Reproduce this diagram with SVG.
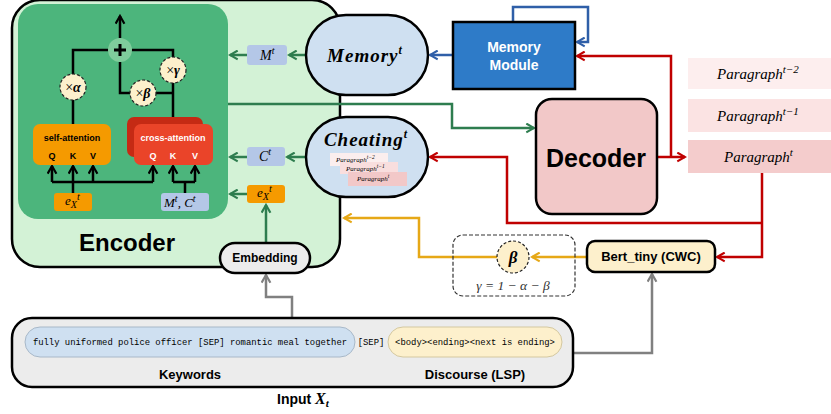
<svg xmlns="http://www.w3.org/2000/svg" width="831" height="414" viewBox="0 0 831 414">
<defs>
<style>
.sans{font-family:"Liberation Sans",Arial,sans-serif;font-weight:bold}
.math{font-family:"Liberation Serif","DejaVu Serif",serif;font-style:italic}
.mono{font-family:"Liberation Mono","DejaVu Sans Mono",monospace}
.blk{fill:none;stroke:#000;stroke-width:2.5}
.grn{fill:none;stroke:#2e7d4f;stroke-width:2.5}
.red{fill:none;stroke:#c00000;stroke-width:2.5}
.blu{fill:none;stroke:#2f5fa8;stroke-width:2.5}
.yel{fill:none;stroke:#e6a817;stroke-width:2.5}
.gry{fill:none;stroke:#808080;stroke-width:2.5}
.coef{fill:#fdf0cc;stroke:#222;stroke-width:1.2;stroke-dasharray:3 2}
</style>
<marker id="aK" viewBox="0 0 10 10" refX="8" refY="5" markerWidth="11" markerHeight="11" markerUnits="userSpaceOnUse" orient="auto"><path d="M1,1 L8,5 L1,9" fill="none" stroke="#000" stroke-width="2"/></marker>
<marker id="aG" viewBox="0 0 10 10" refX="8" refY="5" markerWidth="11" markerHeight="11" markerUnits="userSpaceOnUse" orient="auto"><path d="M1,1 L8,5 L1,9" fill="none" stroke="#2e7d4f" stroke-width="2"/></marker>
<marker id="aR" viewBox="0 0 10 10" refX="8" refY="5" markerWidth="11" markerHeight="11" markerUnits="userSpaceOnUse" orient="auto"><path d="M1,1 L8,5 L1,9" fill="none" stroke="#c00000" stroke-width="2"/></marker>
<marker id="aB" viewBox="0 0 10 10" refX="8" refY="5" markerWidth="11" markerHeight="11" markerUnits="userSpaceOnUse" orient="auto"><path d="M1,1 L8,5 L1,9" fill="none" stroke="#2f5fa8" stroke-width="2"/></marker>
<marker id="aY" viewBox="0 0 10 10" refX="8" refY="5" markerWidth="11" markerHeight="11" markerUnits="userSpaceOnUse" orient="auto"><path d="M1,1 L8,5 L1,9" fill="none" stroke="#e6a817" stroke-width="2"/></marker>
<marker id="aY2" viewBox="0 0 10 10" refX="8" refY="5" markerWidth="11" markerHeight="11" markerUnits="userSpaceOnUse" orient="auto"><path d="M1,1 L8,5 L1,9" fill="none" stroke="#808080" stroke-width="2"/></marker>
</defs>
<rect width="831" height="414" fill="#fff"/>

<g id="encoder">
<rect x="12" y="0" width="328" height="267" rx="28" fill="#d3f2d6" stroke="#000" stroke-width="2.5"/>
<rect x="18" y="4" width="210" height="215" rx="20" fill="#4cb57c"/>
<text x="127" y="251" class="sans" font-size="24" text-anchor="middle">Encoder</text>
</g>

<g id="encoder-inner-lines">
<path class="blk" d="M120,38 L120,16" marker-end="url(#aK)"/>
<path class="blk" d="M73,124 L73,50 L173,50 L173,124"/>
<path class="blk" d="M120,62 L120,93 L173,93"/>
<path class="blk" d="M52,182 L153,182"/>
<path class="blk" d="M73,193 L73,182"/>
<path class="blk" d="M52,182 L52,166" marker-end="url(#aK)"/>
<path class="blk" d="M73,182 L73,166" marker-end="url(#aK)"/>
<path class="blk" d="M93,182 L93,166" marker-end="url(#aK)"/>
<path class="blk" d="M153,182 L153,166" marker-end="url(#aK)"/>
<path class="blk" d="M185,193 L185,182 M173,182 L195,182"/>
<path class="blk" d="M173,182 L173,166" marker-end="url(#aK)"/>
<path class="blk" d="M195,182 L195,166" marker-end="url(#aK)"/>
</g>

<g id="plus">
<circle cx="120" cy="50" r="12" fill="#7fcc9b"/>
<path d="M114,50 L126,50 M120,44 L120,56" stroke="#000" stroke-width="3"/>
</g>
<g id="alpha">
<circle cx="73" cy="87" r="13" class="coef"/>
<text x="73" y="92" text-anchor="middle" font-size="14"><tspan font-family="Liberation Serif,serif">×</tspan><tspan class="math" font-weight="bold">α</tspan></text>
</g>
<g id="beta-coef">
<circle cx="143" cy="93" r="13" class="coef"/>
<text x="143" y="98" text-anchor="middle" font-size="14"><tspan font-family="Liberation Serif,serif">×</tspan><tspan class="math" font-weight="bold">β</tspan></text>
</g>
<g id="gamma">
<circle cx="173" cy="70" r="13" class="coef"/>
<text x="173" y="75" text-anchor="middle" font-size="14"><tspan font-family="Liberation Serif,serif">×</tspan><tspan class="math" font-weight="bold">γ</tspan></text>
</g>

<g id="self-attention">
<rect x="33" y="124" width="78" height="41" rx="7" fill="#f59a00"/>
<text x="72" y="141" class="sans" font-size="9" text-anchor="middle">self-attention</text>
<text y="159" class="sans" font-size="9" text-anchor="middle"><tspan x="52">Q</tspan><tspan x="73">K</tspan><tspan x="93">V</tspan></text>
</g>
<g id="cross-attention">
<rect x="127" y="117" width="76" height="40" rx="7" fill="#c52a14"/>
<rect x="134" y="124" width="79" height="41" rx="7" fill="#ea4429"/>
<text x="173" y="141" class="sans" font-size="9" fill="#fff" text-anchor="middle">cross-attention</text>
<text y="159" class="sans" font-size="9" fill="#fff" text-anchor="middle"><tspan x="153">Q</tspan><tspan x="173">K</tspan><tspan x="195">V</tspan></text>
</g>
<g id="ex-inner">
<rect x="54" y="193" width="38" height="18" rx="3" fill="#f59a00"/>
<text x="65" y="205" class="math" font-size="13">e<tspan font-size="10" dy="3">X</tspan><tspan font-size="10" dy="-8">t</tspan></text>
</g>
<g id="mc-inner">
<rect x="161" y="193" width="48" height="18" rx="3" fill="#b4c7e7"/>
<text x="164" y="207" class="math" font-size="13">M<tspan font-size="10" dy="-5">t</tspan><tspan dy="5">, C</tspan><tspan font-size="10" dy="-5">t</tspan></text>
</g>

<g id="connectors">
<path class="grn" d="M306,55 L289,55" marker-end="url(#aG)"/>
<path class="grn" d="M247,55 L230,55" marker-end="url(#aG)"/>
<path class="grn" d="M306,157 L287,157" marker-end="url(#aG)"/>
<path class="grn" d="M247,157 L230,157" marker-end="url(#aG)"/>
<path class="grn" d="M247,194 L230,194" marker-end="url(#aG)"/>
<path class="grn" d="M266,243 L266,205" marker-end="url(#aG)"/>
<path class="grn" d="M228,104 L452,104 L452,128 L534,128" marker-end="url(#aG)"/>
<path class="blu" d="M453,55 L430,55" marker-end="url(#aB)"/>
<path class="blu" d="M513,22 L513,7 L588,7 L588,42 L577,42" marker-end="url(#aB)"/>
<path class="red" d="M657,157 L685,157" marker-end="url(#aR)"/>
<path class="red" d="M671,157 L671,56 L577,56" marker-end="url(#aR)"/>
<path class="red" d="M762,173 L762,257 L717,257" marker-end="url(#aR)"/>
<path class="red" d="M762,223 L507,223 L507,157 L430,157" marker-end="url(#aR)"/>
<path class="yel" d="M587,257 L532,257" marker-end="url(#aY)"/>
<path class="yel" d="M497,257 L419,257 L419,218 L344,218" marker-end="url(#aY)"/>
<path class="gry" d="M573,353 L652,353 L652,274" marker-end="url(#aY2)"/>
<path class="gry" d="M292,318 L292,297 L266,297 L266,275" marker-end="url(#aY2)"/>
</g>

<g id="mt-box">
<rect x="247" y="45" width="40" height="20" rx="3" fill="#b4c7e7"/>
<text x="260" y="60" class="math" font-size="14">M<tspan font-size="10" dy="-6">t</tspan></text>
</g>
<g id="ct-box">
<rect x="247" y="147" width="38" height="19" rx="3" fill="#b4c7e7"/>
<text x="259" y="161" class="math" font-size="14">C<tspan font-size="10" dy="-6">t</tspan></text>
</g>
<g id="ex-box">
<rect x="247" y="185" width="38" height="18" rx="3" fill="#f59a00"/>
<text x="257" y="197" class="math" font-size="13">e<tspan font-size="10" dy="3">X</tspan><tspan font-size="10" dy="-8">t</tspan></text>
</g>

<g id="memory-t">
<rect x="306" y="15" width="122" height="80" rx="40" fill="#cfe0f1" stroke="#000" stroke-width="2.5"/>
<text x="365" y="62" class="math" font-weight="bold" font-size="19" letter-spacing="1" text-anchor="middle">Memory<tspan font-size="12" dy="-8">t</tspan></text>
</g>
<g id="cheating-t">
<rect x="306" y="117" width="122" height="80" rx="40" fill="#cfe0f1" stroke="#000" stroke-width="2.5"/>
<text x="366" y="146" class="math" font-weight="bold" font-size="19" letter-spacing="1" text-anchor="middle">Cheating<tspan font-size="12" dy="-8">t</tspan></text>
<rect x="330" y="153" width="58" height="13" fill="#fbeeee"/>
<rect x="340" y="162" width="58" height="12" fill="#f9dede"/>
<rect x="348" y="172" width="59" height="14" fill="#f2c8c8"/>
<text x="336" y="162" class="math" font-size="7">Paragraph<tspan font-size="5.5" dy="-3">t−2</tspan></text>
<text x="346" y="171" class="math" font-size="7">Paragraph<tspan font-size="5.5" dy="-3">t−1</tspan></text>
<text x="357" y="181" class="math" font-size="7">Paragraph<tspan font-size="5.5" dy="-3">t</tspan></text>
</g>

<g id="memory-module">
<rect x="453" y="22" width="122" height="67" fill="#2e7bc8" stroke="#000" stroke-width="2.5"/>
<text x="514" y="52" class="sans" font-size="14" fill="#fff" text-anchor="middle">Memory</text>
<text x="514" y="70" class="sans" font-size="14" fill="#fff" text-anchor="middle">Module</text>
</g>

<g id="decoder">
<rect x="536" y="99" width="121" height="115" rx="16" fill="#f2c8c8" stroke="#000" stroke-width="2.5"/>
<text x="596" y="167" class="sans" font-size="25" text-anchor="middle">Decoder</text>
</g>

<g id="paragraphs">
<rect x="688" y="58" width="143" height="31" fill="#fdeeee"/>
<rect x="688" y="99" width="143" height="33" fill="#fbe3e3"/>
<rect x="688" y="140" width="143" height="33" fill="#f4cccc"/>
<text x="717" y="79" class="math" font-size="15">Paragraph<tspan font-size="11" dy="-6">t−2</tspan></text>
<text x="717" y="121" class="math" font-size="15">Paragraph<tspan font-size="11" dy="-6">t−1</tspan></text>
<text x="724" y="162" class="math" font-size="15">Paragraph<tspan font-size="11" dy="-6">t</tspan></text>
</g>

<g id="embedding">
<rect x="220" y="243" width="90" height="30" rx="15" fill="#ececec" stroke="#000" stroke-width="2.5"/>
<text x="265" y="262" class="sans" font-size="12" text-anchor="middle">Embedding</text>
</g>

<g id="beta">
<rect x="453" y="235" width="122" height="61" rx="10" fill="none" stroke="#333" stroke-width="1.2" stroke-dasharray="4 2"/>
<circle cx="513" cy="257" r="16" class="coef"/>
<text x="513" y="263" class="math" font-weight="bold" font-size="17" text-anchor="middle">β</text>
<text x="513" y="290" class="math" font-size="13.5" fill="#333" text-anchor="middle">γ = 1 − α − β</text>
</g>

<g id="bert">
<rect x="587" y="241" width="128" height="31" rx="8" fill="#fdf0cc" stroke="#000" stroke-width="2.5"/>
<text x="651" y="261" class="sans" font-size="13" text-anchor="middle">Bert_tiny (CWC)</text>
</g>

<g id="input">
<rect x="12" y="318" width="561" height="69" rx="20" fill="#ececec" stroke="#000" stroke-width="2.5"/>
<rect x="25" y="327" width="330" height="30" rx="15" fill="#cfe0f1" stroke="#a8b8c8" stroke-width="1"/>
<text x="190" y="345" class="mono" font-size="8.9" text-anchor="middle">fully uniformed police officer [SEP] romantic meal together</text>
<text x="371" y="345" class="mono" font-size="8.9" text-anchor="middle">[SEP]</text>
<rect x="388" y="327" width="174" height="30" rx="15" fill="#fdf0cc" stroke="#d4c8a0" stroke-width="1"/>
<text x="475" y="345" class="mono" font-size="8.9" text-anchor="middle">&lt;body&gt;&lt;ending&gt;&lt;next is ending&gt;</text>
<text x="190" y="379" class="sans" font-size="13" text-anchor="middle">Keywords</text>
<text x="475" y="379" class="sans" font-size="13" text-anchor="middle">Discourse (LSP)</text>
<text x="277" y="404" class="sans" font-size="14">Input <tspan class="math" font-size="16">X</tspan><tspan class="math" font-size="11" dy="3">t</tspan></text>
</g>
</svg>
